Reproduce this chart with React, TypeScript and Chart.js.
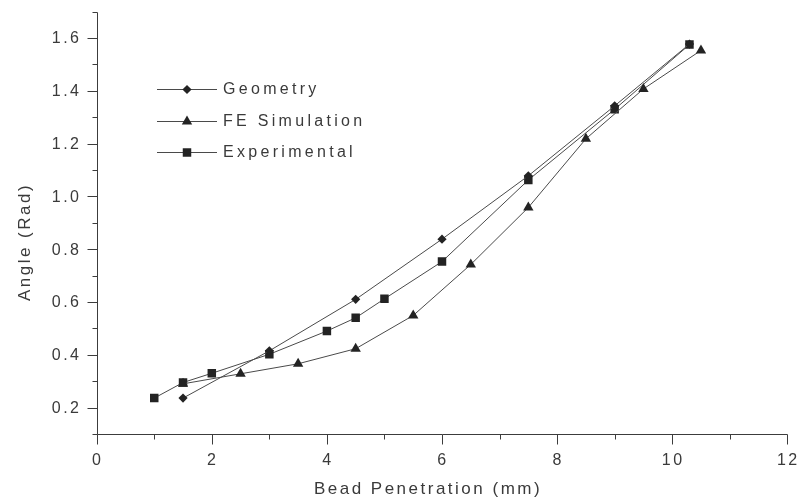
import React, { useEffect, useRef } from 'react';
import { Chart, registerables } from 'chart.js';

Chart.register(...registerables);

// ---- data ----
const seriesNames = ['Geometry', 'FE Simulation', 'Experimental'];

const geometryX = [1.5, 3, 4.5, 6, 7.5, 9, 10.3];
const geometryY = [0.236, 0.415, 0.61, 0.838, 1.078, 1.343, 1.577];

const feX = [1.5, 2.5, 3.5, 4.5, 5.5, 6.5, 7.5, 8.5, 9.5, 10.5];
const feY = [0.29, 0.328, 0.366, 0.423, 0.549, 0.742, 0.958, 1.218, 1.407, 1.553];

const expX = [1, 1.5, 2, 3, 4, 4.5, 5, 6, 7.5, 9, 10.3];
const expY = [0.236, 0.295, 0.33, 0.402, 0.49, 0.54, 0.612, 0.753, 1.062, 1.33, 1.575];

const xTicks = [0, 2, 4, 6, 8, 10, 12];
const xMinorTicks = [1, 3, 5, 7, 9, 11];
const yTicks = [0.2, 0.4, 0.6, 0.8, 1.0, 1.2, 1.4, 1.6];
const yMinorTicks = [0.1, 0.3, 0.5, 0.7, 0.9, 1.1, 1.3, 1.5, 1.7];

const xTitle = 'Bead Penetration (mm)';
const yTitle = 'Angle (Rad)';

// ---- styles ----
const FONT = '"Liberation Sans", Arial, sans-serif';
const TEXT_COLOR = '#3a3a3a';
const AXIS_COLOR = '#3c3c3c';
const LINE_COLOR = '#4a4a4a';
const MARK_COLOR = '#232323';
const pointStyles = ['rectRot', 'triangle', 'rect'];
const pointRadii = [4.6, 6, 6];

const toPoints = (xs: number[], ys: number[]) => xs.map((x, i) => ({ x, y: ys[i] }));

const crisp = (v: number) => Math.round(v) + 0.5;

function drawMarker(ctx: CanvasRenderingContext2D, style: string, x: number, y: number, r: number) {
  ctx.beginPath();
  if (style === 'rectRot') {
    ctx.moveTo(x, y - r);
    ctx.lineTo(x + r, y);
    ctx.lineTo(x, y + r);
    ctx.lineTo(x - r, y);
  } else if (style === 'triangle') {
    ctx.moveTo(x, y - r);
    ctx.lineTo(x + r * Math.sin(Math.PI / 3), y + r / 2);
    ctx.lineTo(x - r * Math.sin(Math.PI / 3), y + r / 2);
  } else {
    const s = r * Math.SQRT1_2;
    ctx.rect(x - s, y - s, 2 * s, 2 * s);
  }
  ctx.closePath();
  ctx.fill();
}

const framePlugin = {
  id: 'frame',
  beforeDatasetsDraw(chart: any) {
    const { ctx } = chart;
    const xs = chart.scales.x;
    const ys = chart.scales.y;
    const ax = crisp(xs.getPixelForValue(xs.min));
    const ay = crisp(ys.getPixelForValue(ys.min));
    ctx.save();
    ctx.strokeStyle = AXIS_COLOR;
    ctx.lineWidth = 1;
    ctx.beginPath();
    ctx.moveTo(ax, crisp(ys.getPixelForValue(ys.max)));
    ctx.lineTo(ax, ay);
    ctx.lineTo(crisp(xs.getPixelForValue(xs.max)), ay);
    yTicks.forEach((v) => {
      const p = crisp(ys.getPixelForValue(v));
      ctx.moveTo(ax - 10, p);
      ctx.lineTo(ax, p);
    });
    yMinorTicks.forEach((v) => {
      const p = crisp(ys.getPixelForValue(v));
      ctx.moveTo(ax - 5, p);
      ctx.lineTo(ax, p);
    });
    xTicks.forEach((v) => {
      const p = crisp(xs.getPixelForValue(v));
      ctx.moveTo(p, ay);
      ctx.lineTo(p, ay + 10);
    });
    xMinorTicks.forEach((v) => {
      const p = crisp(xs.getPixelForValue(v));
      ctx.moveTo(p, ay);
      ctx.lineTo(p, ay + 5);
    });
    ctx.stroke();

    // tick labels
    ctx.fillStyle = TEXT_COLOR;
    ctx.font = `16px ${FONT}`;
    (ctx as any).letterSpacing = '2.5px';
    ctx.textBaseline = 'middle';
    ctx.textAlign = 'right';
    yTicks.forEach((v) => {
      ctx.fillText(v.toFixed(1), ax - 16, ys.getPixelForValue(v) + 1);
    });
    ctx.textAlign = 'center';
    xTicks.forEach((v) => {
      ctx.fillText(String(v), xs.getPixelForValue(v) + 1, ay + 26);
    });

    // axis titles
    ctx.font = `17px ${FONT}`;
    (ctx as any).letterSpacing = '2.5px';
    ctx.textAlign = 'center';
    ctx.fillText(xTitle, 428, 489);
    ctx.save();
    ctx.translate(25, 242);
    ctx.rotate(-Math.PI / 2);
    ctx.fillText(yTitle, 0, 0);
    ctx.restore();
    ctx.restore();
  },
  afterDraw(chart: any) {
    const { ctx } = chart;
    const rows = [89, 121, 152];
    ctx.save();
    ctx.font = `16px ${FONT}`;
    (ctx as any).letterSpacing = '3.3px';
    ctx.textBaseline = 'middle';
    ctx.textAlign = 'left';
    seriesNames.forEach((name, i) => {
      const y = rows[i];
      ctx.strokeStyle = LINE_COLOR;
      ctx.lineWidth = 1;
      ctx.beginPath();
      ctx.moveTo(157, crisp(y));
      ctx.lineTo(217, crisp(y));
      ctx.stroke();
      ctx.fillStyle = MARK_COLOR;
      drawMarker(ctx, pointStyles[i], 187, y + 0.5, pointRadii[i]);
      ctx.fillStyle = TEXT_COLOR;
      ctx.fillText(name, 223, y + 1);
    });
    ctx.restore();
  },
};

export default function App() {
  const canvasRef = useRef<HTMLCanvasElement | null>(null);

  useEffect(() => {
    document.body.style.margin = '0';
    const canvas = canvasRef.current;
    if (!canvas) return;
    const seriesData = [
      toPoints(geometryX, geometryY),
      toPoints(feX, feY),
      toPoints(expX, expY),
    ];
    const chart = new Chart(canvas, {
      type: 'scatter',
      data: {
        datasets: seriesNames.map((name, i) => ({
          label: name,
          data: seriesData[i],
          showLine: true,
          borderColor: LINE_COLOR,
          borderWidth: 1,
          backgroundColor: MARK_COLOR,
          pointStyle: pointStyles[i] as any,
          pointRadius: pointRadii[i],
          pointBorderWidth: 0,
          pointBackgroundColor: MARK_COLOR,
          pointBorderColor: MARK_COLOR,
          tension: 0,
        })),
      },
      options: {
        responsive: false,
        animation: false,
        devicePixelRatio: 1,
        layout: { padding: { left: 0, right: 19.7, top: 11.6, bottom: 0 } },
        plugins: {
          legend: { display: false },
          tooltip: { enabled: false },
        },
        scales: {
          x: {
            type: 'linear',
            min: 0,
            max: 12,
            ticks: { display: false },
            grid: { display: false, drawTicks: false },
            border: { display: false },
            afterFit: (s: any) => {
              s.height = 66;
            },
          },
          y: {
            type: 'linear',
            min: 0.1,
            max: 1.7,
            ticks: { display: false },
            grid: { display: false, drawTicks: false },
            border: { display: false },
            afterFit: (s: any) => {
              s.width = 96.7;
            },
          },
        },
      },
      plugins: [framePlugin],
    });
    return () => chart.destroy();
  }, []);

  return (
    <div style={{ width: 807, height: 500, background: '#fff' }}>
      <canvas ref={canvasRef} width={807} height={500} style={{ display: 'block' }} />
    </div>
  );
}
